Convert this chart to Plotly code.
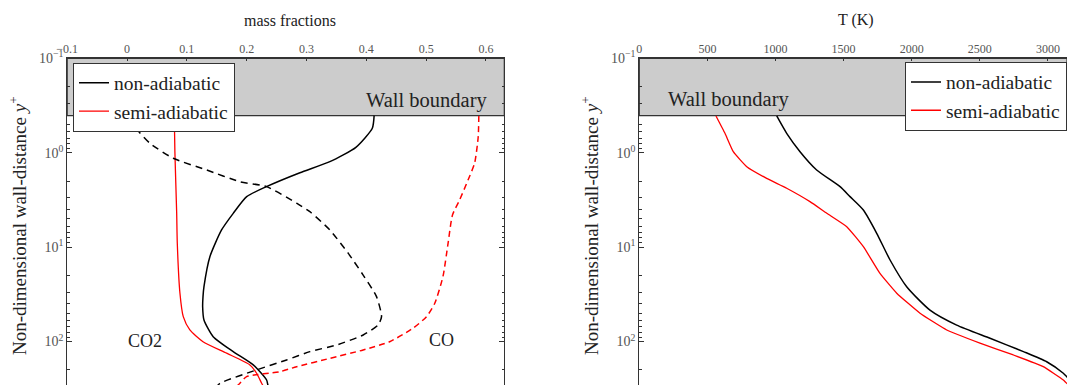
import numpy as np
import plotly.graph_objects as go

# ---------------- data ----------------
# wall position (y+)
WALL_YPLUS = 0.405

# left panel: mass fractions
yp_co2_na = [0.405, 0.55, 0.877, 1.245, 1.63, 2.29, 2.92, 4.39, 6.59, 12.6, 26.3, 33.5, 42.8, 59.2, 88.9, 128, 177, 256, 290, 300]
co2_na = [0.413, 0.410, 0.3825, 0.339, 0.289, 0.233, 0.200, 0.1775, 0.158, 0.1386, 0.1286, 0.127, 0.1264, 0.1286, 0.144, 0.1775, 0.211, 0.2333, 0.2355, 0.237]

yp_co2_sa = [0.405, 0.98, 4.36, 9.06, 30.6, 54.6, 75.5, 100.5, 133, 177, 217, 277, 300]
co2_sa = [0.079, 0.080, 0.083, 0.084, 0.0884, 0.094, 0.105, 0.127, 0.1665, 0.2054, 0.2166, 0.225, 0.228]

yp_co_na = [0.408, 0.552, 0.795, 1.146, 1.524, 2.03, 2.29, 3.43, 4.22, 6.59, 11.6, 19.8, 33.5, 54.6, 66.8, 85.3, 109, 128, 157, 200, 277, 300]
co_na = [0.0134, 0.016, 0.0383, 0.0773, 0.133, 0.1887, 0.2333, 0.2834, 0.3056, 0.339, 0.3696, 0.3947, 0.417, 0.4254, 0.4197, 0.3947, 0.3502, 0.3056, 0.2667, 0.2166, 0.1553, 0.150]

yp_co_sa = [0.408, 0.677, 1.29, 1.95, 3.16, 4.57, 9.12, 20.6, 39.4, 54.6, 72.4, 100.5, 123, 151, 185, 209, 236, 277, 300]
co_sa = [0.588, 0.587, 0.581, 0.570, 0.556, 0.544, 0.5366, 0.528, 0.5144, 0.5006, 0.478, 0.439, 0.3947, 0.339, 0.2834, 0.2555, 0.1999, 0.1887, 0.183]

# right panel: temperature
yp_t_na = [0.408, 0.623, 0.976, 1.524, 2.29, 2.92, 4.05, 7.14, 13.7, 26.3, 46.5, 67, 92.5, 128, 164, 217, 236, 290]
t_na = [1009, 1082, 1180, 1302, 1474, 1547, 1645, 1743, 1841, 1963, 2134, 2330, 2575, 2820, 2991, 3113, 3138, 3200]

yp_t_sa = [0.408, 0.623, 0.976, 1.406, 1.87, 2.38, 3.30, 4.38, 6.08, 9.9, 19.0, 30.8, 50.2, 75.5, 104, 139, 185, 256, 277, 300]
t_sa = [563, 629, 690, 789, 935, 1082, 1253, 1376, 1523, 1645, 1767, 1890, 2061, 2257, 2501, 2746, 2966, 3113, 3138, 3180]

mf_ticks = [-0.1, 0, 0.1, 0.2, 0.3, 0.4, 0.5, 0.6]
mf_ticktext = ["\u22120.1", "0", "0.1", "0.2", "0.3", "0.4", "0.5", "0.6"]
t_ticks = [0, 500, 1000, 1500, 2000, 2500, 3000]
y_ticks = [0.1, 1, 10, 100]
y_ticktext = ["10<sup>\u22121</sup>", "10<sup>0</sup>", "10<sup>1</sup>", "10<sup>2</sup>"]

# ---------------- styling ----------------
FONT = "Liberation Serif"
AX = "#333333"
TICKC = "#555555"
W, H = 1067, 385

fig = go.Figure()

def line(color, width, dash=None, smoothing=0.6):
    d = dict(color=color, width=width, shape="spline", smoothing=smoothing)
    if dash:
        d["dash"] = dash
    return d

fig.add_trace(go.Scatter(x=co2_na, y=yp_co2_na, mode="lines", name="non-adiabatic",
                         line=line("black", 1.5), legend="legend", xaxis="x", yaxis="y"))
fig.add_trace(go.Scatter(x=co2_sa, y=yp_co2_sa, mode="lines", name="semi-adiabatic",
                         line=line("#ff0000", 1.3), legend="legend", xaxis="x", yaxis="y"))
fig.add_trace(go.Scatter(x=co_na, y=yp_co_na, mode="lines", showlegend=False,
                         line=line("black", 1.5, "7px,5px"), xaxis="x", yaxis="y"))
fig.add_trace(go.Scatter(x=co_sa, y=yp_co_sa, mode="lines", showlegend=False,
                         line=line("#ff0000", 1.5, "6px,4px"), xaxis="x", yaxis="y"))

fig.add_trace(go.Scatter(x=t_na, y=yp_t_na, mode="lines", name="non-adiabatic",
                         line=line("black", 1.5), legend="legend2", xaxis="x2", yaxis="y2"))
fig.add_trace(go.Scatter(x=t_sa, y=yp_t_sa, mode="lines", name="semi-adiabatic",
                         line=line("#ff0000", 1.3, smoothing=0.4), legend="legend2", xaxis="x2", yaxis="y2"))

ydom = [0, 1 - 58.3 / H]
yrange = [2.461, -1]

common_x = dict(side="top", showline=True, linecolor=AX, linewidth=1, showgrid=False, zeroline=False,
                ticks="inside", ticklen=3, tickcolor=AX, automargin=False,
                tickfont=dict(family=FONT, size=12, color=TICKC))
common_y = dict(type="log", range=yrange, showline=True, linecolor=AX, linewidth=1, showgrid=False,
                zeroline=False, ticks="inside", ticklen=5, tickcolor=AX, automargin=False,
                tickvals=y_ticks, ticktext=y_ticktext,
                tickfont=dict(family=FONT, size=14, color=TICKC),
                minor=dict(ticks="inside", ticklen=2.5, tickcolor=AX, dtick="D1", showgrid=False))

fig.update_layout(
    template="none",
    width=W, height=H, margin=dict(l=0, r=0, t=0, b=0, pad=0, autoexpand=False),
    paper_bgcolor="white", plot_bgcolor="white",
    xaxis=dict(domain=[67.2 / W, 504.3 / W], range=[-0.1, 0.6306],
               tickvals=mf_ticks, ticktext=mf_ticktext, anchor="y", **common_x),
    yaxis=dict(domain=ydom, anchor="x", mirror="ticks", **common_y),
    xaxis2=dict(domain=[639.3 / W, 1.0], range=[0, 3140], tickvals=t_ticks, anchor="y2", **common_x),
    yaxis2=dict(domain=ydom, anchor="x2", **common_y),
    legend=dict(x=73 / W, y=1 - 62.5 / H, xanchor="left", yanchor="top",
                bgcolor="white", bordercolor=AX, borderwidth=1,
                font=dict(family=FONT, size=19.5, color="#222222"), tracegroupgap=0),
    legend2=dict(x=905 / W, y=1 - 61.7 / H, xanchor="left", yanchor="top",
                 bgcolor="white", bordercolor=AX, borderwidth=1,
                 font=dict(family=FONT, size=19.5, color="#222222"), tracegroupgap=0),
    showlegend=True,
)

# wall boundary shaded regions (converted from y+ through the axis range into paper units)
def y_to_paper(v):
    frac = (yrange[0] - np.log10(v)) / (yrange[0] - yrange[1])
    return ydom[0] + (ydom[1] - ydom[0]) * frac

for xr in ("x", "x2"):
    fig.add_shape(type="rect", xref=f"{xr} domain", yref="paper", x0=0, x1=1,
                  y0=float(y_to_paper(WALL_YPLUS)), y1=ydom[1],
                  fillcolor="#cccccc", line=dict(color=AX, width=1.2), layer="below")

txt = dict(family=FONT, color="#222222")
ann = [
    dict(text="Wall boundary", x=426.7 / W, y=1 - 100.7 / H, font=dict(size=20.5, **txt)),
    dict(text="Wall boundary", x=728 / W, y=1 - 100 / H, font=dict(size=20.5, **txt)),
    dict(text="CO2", x=145 / W, y=1 - 341 / H, font=dict(size=18, **txt)),
    dict(text="CO", x=441 / W, y=1 - 340 / H, font=dict(size=18, **txt)),
    dict(text="mass fractions", x=290 / W, y=1 - 20 / H, font=dict(size=16, **txt)),
    dict(text="T (K)", x=856 / W, y=1 - 20 / H, font=dict(size=16, **txt)),
    dict(text="Non-dimensional wall-distance <i>y</i><sup>+</sup>", x=18 / W, y=1 - 226 / H,
         textangle=-90, font=dict(size=19, **txt)),
    dict(text="Non-dimensional wall-distance <i>y</i><sup>+</sup>", x=590 / W, y=1 - 226 / H,
         textangle=-90, font=dict(size=19, **txt)),
]
for a in ann:
    fig.add_annotation(xref="paper", yref="paper", showarrow=False,
                       xanchor="center", yanchor="middle", **a)

fig.write_html("out.html")
